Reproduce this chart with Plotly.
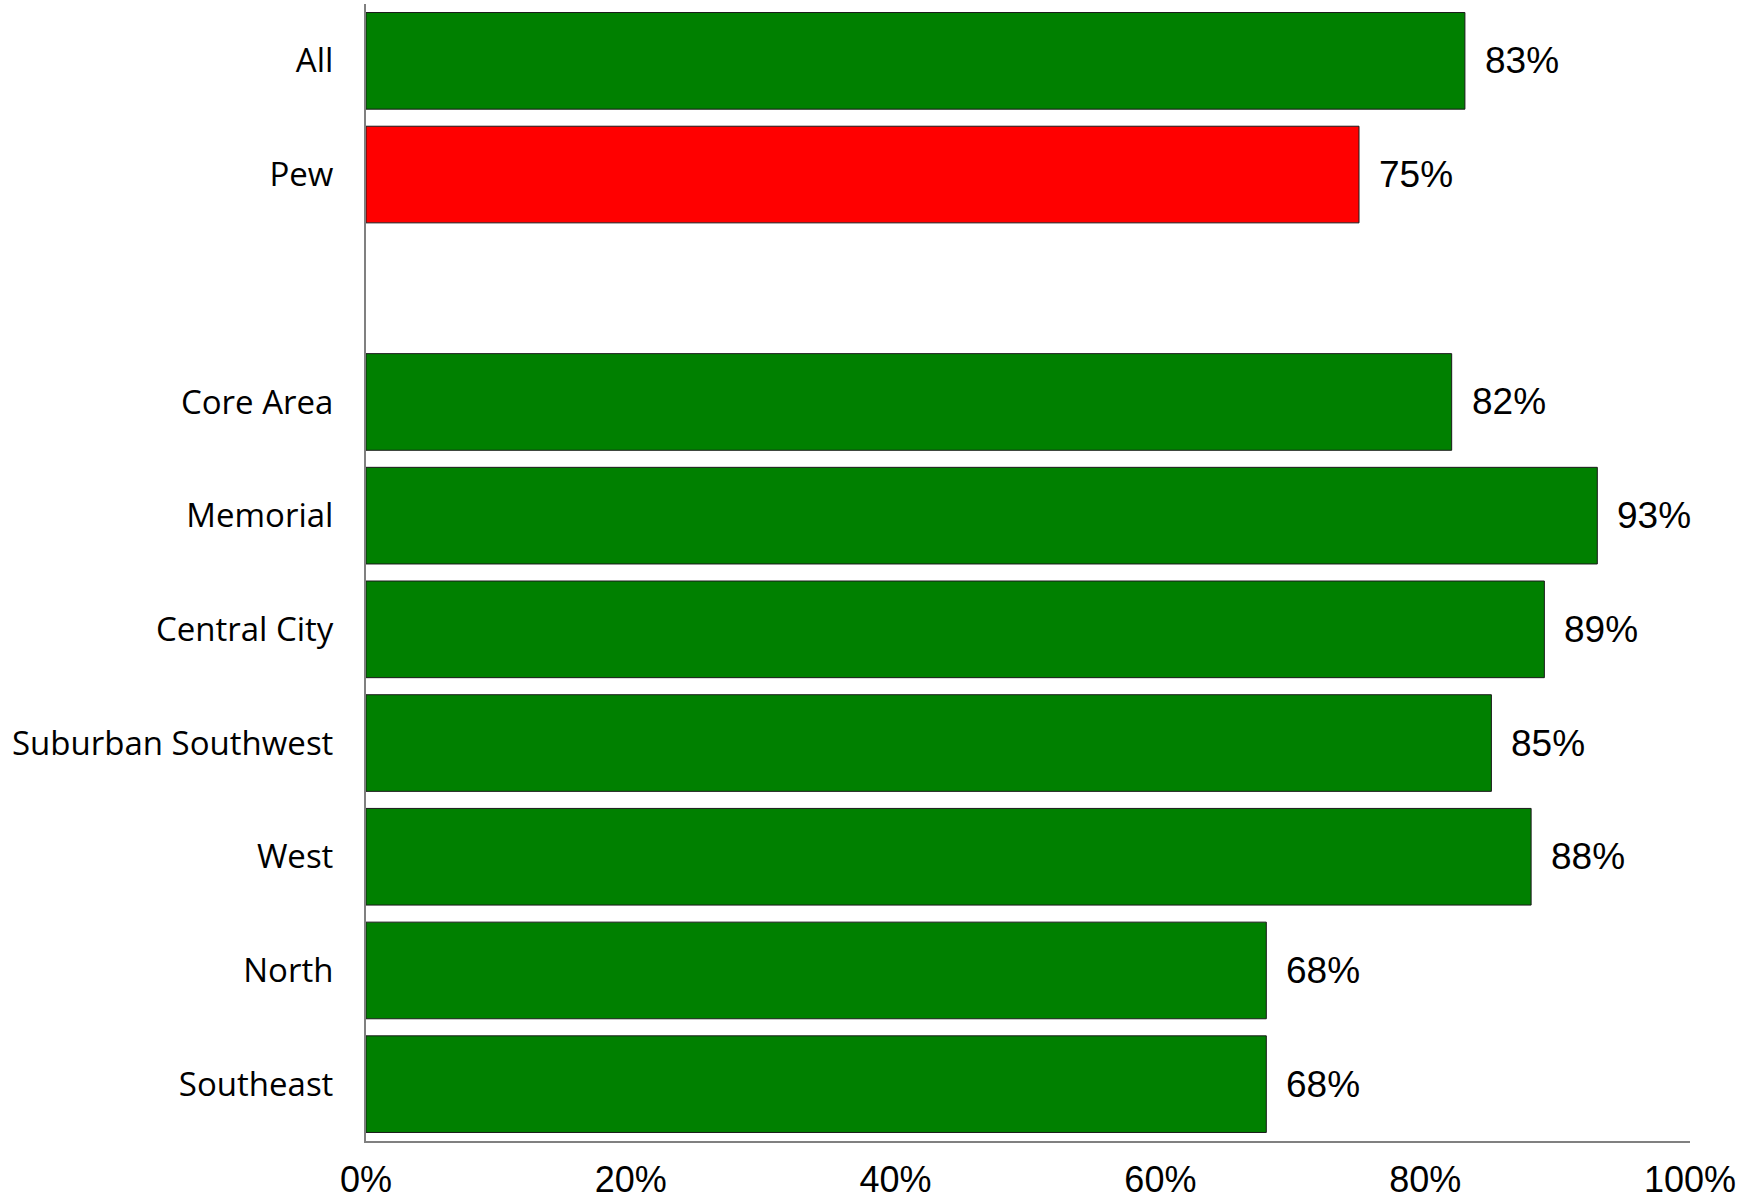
import plotly.graph_objects as go

categories = ["All", "Pew", " ", "Core Area", "Memorial", "Central City",
              "Suburban Southwest", "West", "North", "Southeast"]
values = [83, 75, None, 82, 93, 89, 85, 88, 68, 68]
colors = ["#008000", "#FF0000", "#008000", "#008000", "#008000", "#008000",
          "#008000", "#008000", "#008000", "#008000"]
x_tickvals = [0, 20, 40, 60, 80, 100]
x_ticktext = ["0%", "20%", "40%", "60%", "80%", "100%"]

fig = go.Figure()
fig.add_trace(go.Bar(
    x=values, y=categories, orientation="h",
    marker=dict(color=colors, line=dict(color="#1a1a1a", width=1)),
    hoverinfo="skip",
))

for c, v in zip(categories, values):
    if v is None:
        continue
    fig.add_annotation(x=v, y=c, text=f"{v}%", showarrow=False,
                       xanchor="left", xshift=18,
                       font=dict(family="Liberation Sans, Arial", size=37, color="black"))

fig.update_layout(
    width=1754, height=1202,
    margin=dict(l=366, r=64, t=4, b=61, autoexpand=False),
    paper_bgcolor="white", plot_bgcolor="white",
    bargap=0.15, showlegend=False,
    xaxis=dict(range=[0, 100], tickvals=x_tickvals, ticktext=x_ticktext,
               showgrid=False, zeroline=False, showline=True,
               linecolor="#808080", linewidth=2, ticks="",
               ticklabelstandoff=6, automargin=False,
               tickfont=dict(family="Liberation Sans, Arial", size=36, color="black")),
    yaxis=dict(categoryorder="array", categoryarray=categories,
               autorange="reversed", showgrid=False, zeroline=False,
               showline=True, linecolor="#808080", linewidth=2, ticks="",
               ticklabelstandoff=24, automargin=False,
               tickfont=dict(family="Open Sans", size=33, color="black")),
)

fig.write_html("out.html", config={"displayModeBar": False},
               post_script="document.body.style.margin='0';document.body.style.padding='0';")
